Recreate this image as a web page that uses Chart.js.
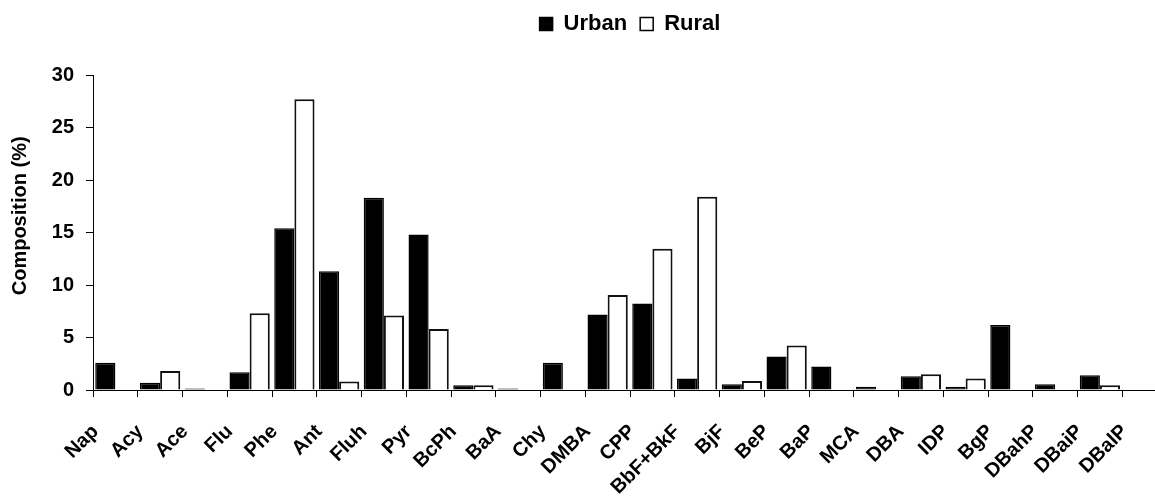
<!DOCTYPE html>
<html>
<head>
<meta charset="utf-8">
<script src="https://cdn.jsdelivr.net/npm/chart.js@4.4.0/dist/chart.umd.min.js"></script>
<style>
  html, body { margin: 0; padding: 0; background: #fff; overflow: hidden; }
  #wrap { width: 1185px; height: 500px; }
</style>
</head>
<body>
<div id="wrap"><canvas id="canvas"></canvas></div>
<script>
// PAH composition
var compounds = ['Nap', 'Acy', 'Ace', 'Flu', 'Phe', 'Ant', 'Fluh', 'Pyr', 'BcPh', 'BaA', 'Chy', 'DMBA',
                 'CPP', 'BbF+BkF', 'BjF', 'BeP', 'BaP', 'MCA', 'DBA', 'IDP', 'BgP', 'DBahP', 'DBaiP', 'DBalP'];
var urban = [2.6, 0.7, 0.15, 1.7, 15.4, 11.3, 18.3, 14.8, 0.45, 0.15, 2.6, 7.2,
             8.25, 1.1, 0.55, 3.2, 2.25, 0.3, 1.3, 0.3, 6.2, 0.55, 1.4, 0];
var rural = [0, 1.8, 0, 7.3, 27.7, 0.8, 7.1, 5.8, 0.45, 0, 0, 9.05,
             13.45, 18.4, 0.85, 4.25, 0, 0, 1.5, 1.1, 0, 0, 0.45, 0];
var yTicks = [0, 5, 10, 15, 20, 25, 30];

Chart.defaults.font.family = "'Liberation Sans', Arial, sans-serif";
Chart.defaults.font.weight = 'bold';
Chart.defaults.color = '#000';

// push the plot down a bit below the legend
var legendGap = {
  id: 'legendGap',
  beforeInit: function(chart) {
    var fit = chart.legend.fit;
    chart.legend.fit = function() {
      fit.bind(chart.legend)();
      this.height += 30;
    };
  }
};

// no outline for empty bars
function border(w) {
  return function(c) { return c.raw ? w : 0; };
}

var ctx = document.getElementById('canvas').getContext('2d');
var myChart = new Chart(ctx, {
  type: 'bar',
  data: {
    labels: compounds,
    datasets: [{
      label: 'Urban',
      data: urban,
      backgroundColor: '#000',
      borderColor: '#000',
      borderWidth: border(1.5)
    }, {
      label: 'Rural',
      data: rural,
      backgroundColor: '#fff',
      borderColor: '#111',
      borderWidth: border(2)
    }]
  },
  options: {
    responsive: true,
    maintainAspectRatio: false,
    animation: false,
    categoryPercentage: 0.9,
    barPercentage: 1.0,
    layout: { padding: { top: 0, left: 0, right: 0, bottom: 0 } },
    plugins: {
      legend: {
        position: 'top',
        fullSize: false,
        labels: {
          font: { size: 22, weight: 'bold' },
          boxWidth: 13,
          boxHeight: 13,
          padding: 13,
          generateLabels: function(chart) {
            return chart.data.datasets.map(function(ds, i) {
              return {
                text: ds.label,
                fillStyle: ds.backgroundColor,
                strokeStyle: '#000',
                lineWidth: 1.5,
                datasetIndex: i
              };
            });
          }
        }
      },
      tooltip: { enabled: false }
    },
    scales: {
      x: {
        grid: { display: true, drawOnChartArea: false, tickLength: 7, color: '#000', offset: true },
        border: { display: true, color: '#000', width: 1 },
        ticks: {
          font: { size: 20, weight: 'bold' },
          minRotation: 45,
          maxRotation: 45,
          autoSkip: false,
          labelOffset: -20,
          padding: 23
        },
        afterFit: function(scale) { scale.height = 110; }
      },
      y: {
        min: 0,
        max: 30,
        grid: { drawOnChartArea: false, tickLength: 7, color: '#000' },
        border: { display: true, color: '#000', width: 1 },
        afterBuildTicks: function(scale) {
          scale.ticks = yTicks.map(function(v) { return { value: v }; });
        },
        ticks: {
          font: { size: 20, weight: 'bold' },
          padding: 12
        },
        title: {
          display: true,
          text: '      Composition (%)',
          font: { size: 20, weight: 'bold' },
          padding: { top: 8, bottom: 0 }
        },
        afterFit: function(scale) { scale.width = 93; }
      }
    }
  },
  plugins: [legendGap]
});
</script>
</body>
</html>
